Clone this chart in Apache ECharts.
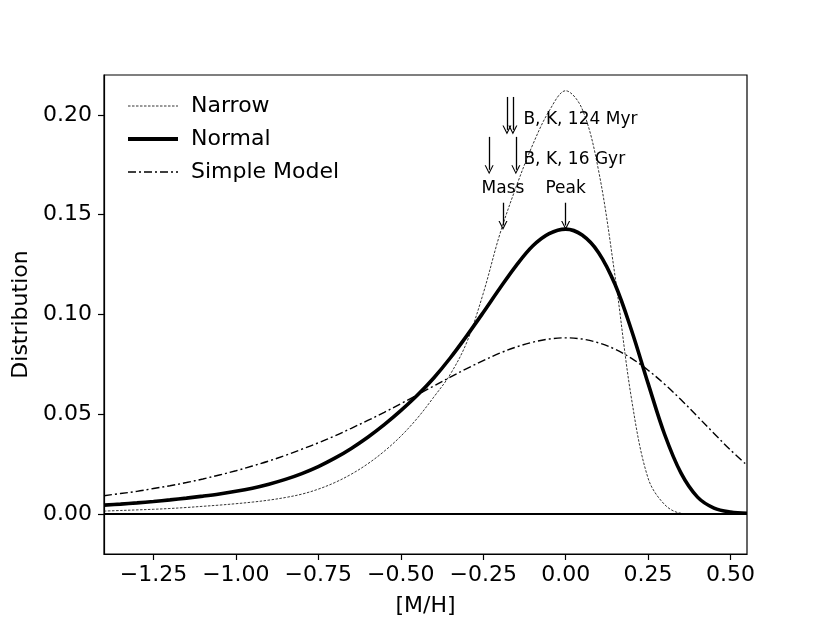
<!DOCTYPE html>
<html>
<head>
<meta charset="utf-8">
<script src="https://cdn.jsdelivr.net/npm/echarts@6/dist/echarts.min.js"></script>
<style>
  html, body { margin: 0; padding: 0; background: #fff; }
  #chart { width: 830px; height: 623px; }
</style>
</head>
<body>
<div id="chart"></div>
<script>
// [M/H] sample points shared by the three curves
var mh = [-1.40, -1.35, -1.30, -1.25, -1.20, -1.15, -1.10, -1.05, -1.00, -0.95,
          -0.90, -0.85, -0.80, -0.75, -0.70, -0.65, -0.60, -0.55, -0.50, -0.45,
          -0.40, -0.35, -0.30, -0.25, -0.20, -0.15, -0.10, -0.05, 0.00, 0.05,
          0.10, 0.15, 0.20, 0.25, 0.30, 0.35, 0.40, 0.45, 0.50, 0.55];

var narrow = [0.0015, 0.0018, 0.0021, 0.0024, 0.0028, 0.0033, 0.0039, 0.0045, 0.0052, 0.0060,
              0.0070, 0.0083, 0.0100, 0.0125, 0.0158, 0.0200, 0.0252, 0.0315, 0.0390, 0.0480,
              0.0586, 0.0700, 0.0860, 0.1105, 0.1400, 0.1640, 0.1850, 0.2020, 0.2121, 0.2030,
              0.1720, 0.1190, 0.0575, 0.0180, 0.0048, 0.0004, 0.0000, 0.0000, 0.0000, 0.0000];

var normal = [0.0045, 0.0050, 0.0056, 0.0063, 0.0071, 0.0080, 0.0090, 0.0101, 0.0114, 0.0130,
              0.0150, 0.0174, 0.0203, 0.0238, 0.0280, 0.0329, 0.0385, 0.0448, 0.0518, 0.0595,
              0.0682, 0.0782, 0.0893, 0.1010, 0.1130, 0.1245, 0.1343, 0.1405, 0.1428, 0.1398,
              0.1310, 0.1150, 0.0920, 0.0655, 0.0400, 0.0205, 0.0085, 0.0030, 0.0010, 0.0004];

var simple = [0.0092, 0.0103, 0.0114, 0.0128, 0.0142, 0.0158, 0.0176, 0.0196, 0.0217, 0.0241,
              0.0266, 0.0294, 0.0325, 0.0357, 0.0392, 0.0430, 0.0469, 0.0510, 0.0553, 0.0597,
              0.0642, 0.0686, 0.0729, 0.0769, 0.0806, 0.0837, 0.0861, 0.0877, 0.0883, 0.0877,
              0.0858, 0.0826, 0.0780, 0.0721, 0.0651, 0.0573, 0.0489, 0.0404, 0.0321, 0.0245];

var xTicks = [-1.25, -1.00, -0.75, -0.50, -0.25, 0.00, 0.25, 0.50];
var yTicks = [0.00, 0.05, 0.10, 0.15, 0.20];

// annotation arrows (x, start y, tip y) and texts
var arrowX    = [-0.178, -0.160, -0.232, -0.151, -0.190, 0.000];
var arrowFrom = [0.2090, 0.2090, 0.1890, 0.1890, 0.1560, 0.1560];
var arrowTo   = [0.1925, 0.1925, 0.1725, 0.1725, 0.1446, 0.1446];
var noteText  = ['B, K, 124 Myr', 'B, K, 16 Gyr', 'Mass', 'Peak'];
var noteX     = [-0.128, -0.128, -0.190, 0.000];
var noteY     = [0.1975, 0.1778, 0.1630, 0.1630];
var noteAlign = ['left', 'left', 'center', 'center'];

var FONT = 'DejaVu Sans';
var arrowHead = 'path://M0,9 L4.5,0 L9,9 L7.8,9 L4.5,2.4 L1.2,9 Z';

function pairs(ys) {
  var out = [];
  for (var i = 0; i < mh.length; i++) out.push([mh[i], ys[i]]);
  return out;
}
function fmt(v) {
  return (v < 0 ? '\u2212' : '') + Math.abs(v).toFixed(2);
}

var arrowLines = [];
for (var i = 0; i < arrowX.length; i++) {
  arrowLines.push([
    { coord: [arrowX[i], arrowFrom[i]], symbol: 'none' },
    { coord: [arrowX[i], arrowTo[i]], symbol: arrowHead }
  ]);
}
// horizontal line at zero
arrowLines.push([
  { coord: [-1.4, 0], symbol: 'none', lineStyle: { width: 1.8, color: '#000' } },
  { coord: [0.55, 0], symbol: 'none' }
]);

var notes = [];
for (var j = 0; j < noteText.length; j++) {
  notes.push({
    name: noteText[j],
    coord: [noteX[j], noteY[j]],
    label: {
      position: noteAlign[j] === 'left' ? 'right' : 'inside',
      distance: 0,
      align: noteAlign[j]
    }
  });
}

var chart = echarts.init(document.getElementById('chart'), null, { renderer: 'canvas' });

var axisCommon = {
  type: 'value',
  nameLocation: 'middle',
  nameTextStyle: { fontFamily: FONT, fontSize: 22, color: '#000' },
  axisLine: { onZero: false, lineStyle: { color: '#000', width: 1.2 } },
  splitLine: { show: false }
};

chart.setOption({
  animation: false,
  backgroundColor: '#fff',
  grid: { left: 104, right: 83, top: 75, bottom: 69, show: true, borderColor: '#000', borderWidth: 1.2 },
  legend: {
    data: [
      { name: 'Narrow', lineStyle: { width: 0.8 } },
      { name: 'Normal', lineStyle: { width: 4 } },
      { name: 'Simple Model', lineStyle: { width: 1.4 } }
    ],
    orient: 'vertical',
    left: 121,
    top: 90,
    itemWidth: 50,
    itemHeight: 14,
    itemGap: 11,
    itemStyle: { opacity: 0 },
    textStyle: { fontFamily: FONT, fontSize: 22, color: '#000', padding: [0, 0, 0, 8] }
  },
  xAxis: Object.assign({}, axisCommon, {
    name: '[M/H]',
    nameGap: 41,
    min: -1.4,
    max: 0.55,
    axisTick: { customValues: xTicks, length: 6, lineStyle: { color: '#000', width: 1.2 } },
    axisLabel: { customValues: xTicks, formatter: fmt, fontFamily: FONT, fontSize: 22, color: '#000', margin: 10 }
  }),
  yAxis: Object.assign({}, axisCommon, {
    name: 'Distribution',
    nameGap: 64,
    min: -0.02,
    max: 0.22,
    axisTick: { customValues: yTicks, length: 6, lineStyle: { color: '#000', width: 1.2 } },
    axisLabel: { customValues: yTicks, formatter: fmt, fontFamily: FONT, fontSize: 22, color: '#000', margin: 12 }
  }),
  series: [
    {
      name: 'Narrow',
      type: 'line',
      data: pairs(narrow),
      symbol: 'none',
      smooth: 0.35,
      color: '#000',
      lineStyle: { color: '#000', width: 0.8, type: [2.5, 1.5] },
      z: 3
    },
    {
      name: 'Normal',
      type: 'line',
      data: pairs(normal),
      symbol: 'none',
      smooth: 0.35,
      color: '#000',
      lineStyle: { color: '#000', width: 3.6 },
      z: 4
    },
    {
      name: 'Simple Model',
      type: 'line',
      data: pairs(simple),
      symbol: 'none',
      smooth: 0.35,
      color: '#000',
      lineStyle: { color: '#000', width: 1.4, type: [8, 3, 2, 3] },
      z: 3
    },
    {
      name: 'notes',
      type: 'line',
      data: [[0, 0]],
      symbol: 'none',
      lineStyle: { width: 0 },
      silent: true,
      z: 5,
      markLine: {
        silent: true,
        animation: false,
        symbol: ['none', 'none'],
        symbolSize: 9,
        label: { show: false },
        lineStyle: { color: '#000', width: 1.3, type: 'solid' },
        emphasis: { disabled: true },
        data: arrowLines
      },
      markPoint: {
        silent: true,
        animation: false,
        symbol: 'circle',
        symbolSize: 0,
        itemStyle: { color: 'rgba(0,0,0,0)' },
        label: {
          show: true,
          formatter: function (p) { return p.name; },
          fontFamily: FONT,
          fontSize: 17,
          color: '#000'
        },
        data: notes
      }
    }
  ]
});
</script>
</body>
</html>
